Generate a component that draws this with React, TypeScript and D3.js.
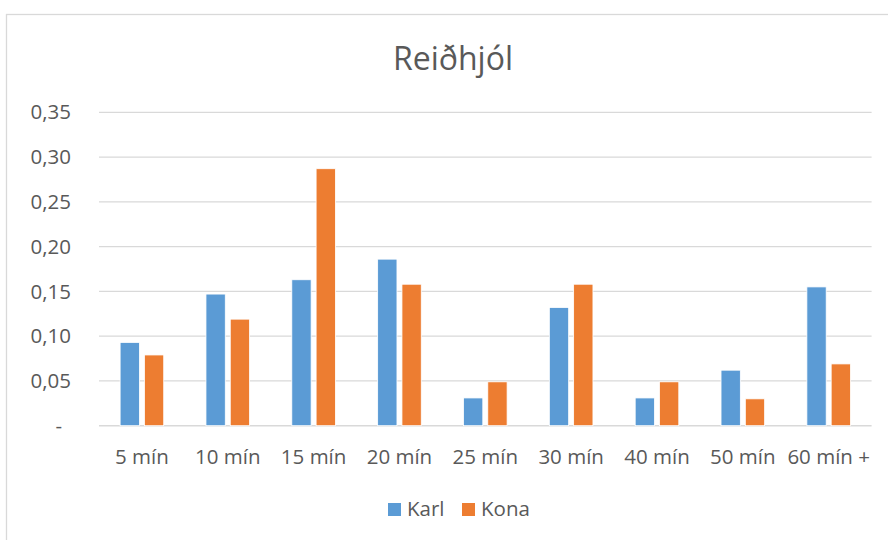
import React from "react";
import * as d3 from "d3";

const categories = ["5 mín", "10 mín", "15 mín", "20 mín", "25 mín", "30 mín", "40 mín", "50 mín", "60 mín +"];
const karl = [0.093, 0.147, 0.163, 0.186, 0.031, 0.132, 0.031, 0.062, 0.155];
const kona = [0.079, 0.119, 0.287, 0.158, 0.049, 0.158, 0.049, 0.030, 0.069];
const yTicks = [0, 0.05, 0.1, 0.15, 0.2, 0.25, 0.3, 0.35];
const seriesNames = ["Karl", "Kona"];
const colors = ["#5B9BD5", "#ED7D31"];

const W = 888;
const H = 540;
const left = 99;
const right = 871.6;
const top = 112.3;
const bottom = 425.7;

const fmt = (v: number) => (v === 0 ? "-" : v.toFixed(2).replace(".", ","));

export default function App() {
  const x = d3.scaleBand<string>().domain(categories).range([left, right]).padding(0);
  const y = d3.scaleLinear().domain([0, 0.35]).range([bottom, top]);
  const step = x.bandwidth();
  const barW = step * 0.225;
  const gap = step * 0.058;
  const font = "'Open Sans', sans-serif";
  const textColor = "#595959";

  return (
    <svg width={W} height={H} style={{ position: "absolute", left: 0, top: 0, background: "#fff" }}>
      <rect x={0} y={0} width={W} height={H} fill="#fff" />
      <rect x={6.5} y={14.5} width={W + 20} height={H + 20} fill="#fff" stroke="#D9D9D9" strokeWidth={1.3} />
      <text x={453} y={70} textAnchor="middle" fontFamily={font} fontSize={32} fill={textColor}>
        Reiðhjól
      </text>
      {yTicks.map((t) => (
        <g key={t}>
          <line x1={left} x2={right} y1={y(t)} y2={y(t)} stroke="#D9D9D9" strokeWidth={t === 0 ? 1.5 : 1.3} />
          <text
            x={t === 0 ? 62 : 71}
            y={y(t)}
            dy="0.35em"
            textAnchor="end"
            fontFamily={font}
            fontSize={20.5}
            fill={textColor}
          >
            {fmt(t)}
          </text>
        </g>
      ))}
      {categories.map((c, i) => {
        const cx = (x(c) as number) + step / 2;
        return (
          <g key={c}>
            {[karl[i], kona[i]].map((v, s) => {
              const bx = s === 0 ? cx - gap / 2 - barW : cx + gap / 2;
              return (
                <rect
                  key={s}
                  x={bx}
                  y={y(v)}
                  width={barW}
                  height={bottom - y(v)}
                  fill={colors[s]}
                  stroke="#fff"
                  strokeWidth={0.8}
                />
              );
            })}
            <text x={cx} y={464} textAnchor="middle" fontFamily={font} fontSize={20.5} fill={textColor}>
              {c}
            </text>
          </g>
        );
      })}
      {seriesNames.map((n, i) => {
        const lx = i === 0 ? 388 : 462;
        return (
          <g key={n}>
            <rect x={lx} y={503} width={13} height={13} fill={colors[i]} />
            <text x={lx + 19} y={516} fontFamily={font} fontSize={20.5} fill={textColor}>
              {n}
            </text>
          </g>
        );
      })}
    </svg>
  );
}
